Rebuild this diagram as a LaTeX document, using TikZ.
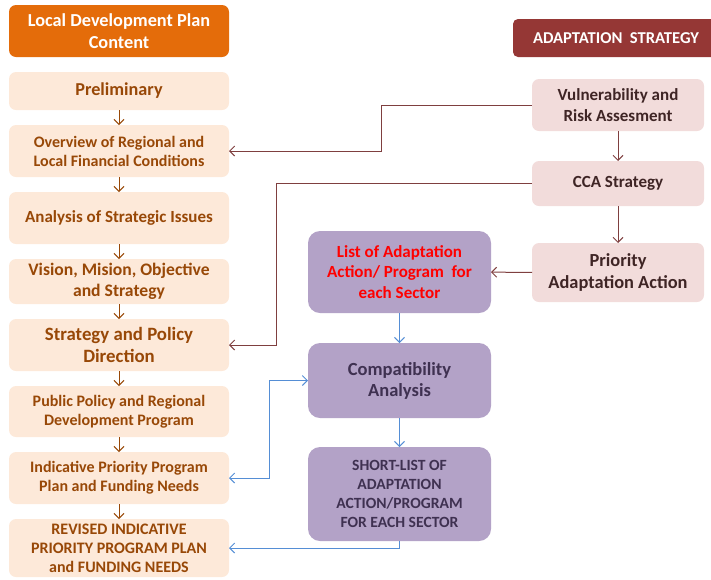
\documentclass[tikz,border=0pt]{standalone}
\usepackage{fontspec}
\setmainfont{Carlito}
\usetikzlibrary{arrows.meta, positioning}

\definecolor{planorange}{HTML}{E46C0A}
\definecolor{planfill}{HTML}{FDE9D9}
\definecolor{plantext}{HTML}{984807}
\definecolor{adaptred}{HTML}{953735}
\definecolor{adaptfill}{HTML}{F2DCDB}
\definecolor{adapttext}{HTML}{3F2525}
\definecolor{actionfill}{HTML}{B3A2C7}
\definecolor{actiontext}{HTML}{3F3151}
\definecolor{linkred}{HTML}{7F3F3F}
\definecolor{linkblue}{HTML}{558ED5}

\tikzset{
  box/.style={align=center, inner sep=1pt, outer sep=0pt, font=\bfseries\fontsize{16}{19}\selectfont},
  planhead/.style={box, fill=planorange, text=white, rounded corners=7pt, minimum width=220pt, minimum height=52pt, font=\bfseries\fontsize{18.3}{22}\selectfont},
  plan/.style={box, fill=planfill, text=plantext, rounded corners=7pt, minimum width=220pt},
  adapthead/.style={box, fill=adaptred, text=white, rounded corners=5pt, minimum width=206pt, minimum height=38pt, font=\bfseries\fontsize{16.6}{20}\selectfont},
  adapt/.style={box, fill=adaptfill, text=adapttext, rounded corners=7pt, minimum width=172pt, font=\bfseries\fontsize{17}{20.5}\selectfont},
  action/.style={box, fill=actionfill, text=actiontext, rounded corners=12pt, minimum width=183pt, font=\bfseries\fontsize{17}{20.5}\selectfont}
}

\begin{document}
\begin{tikzpicture}[x=1pt, y=-1pt, ->, >={Straight Barb[length=5pt, width=10pt]}, node distance=15pt, line width=1pt]
    \useasboundingbox (0,0) rectangle (711,579);
    % local development plan
    \node[planhead]		(head)		at (119,31)		{Local Development Plan\\Content};
    \node[plan, minimum height=38pt, font=\bfseries\fontsize{18.2}{22}\selectfont]	(prelim)	[below=of head]			{Preliminary};
    \node[plan, minimum height=52pt]	(overview)	[below=of prelim]		{Overview of Regional and\\Local Financial Conditions};
    \node[plan, minimum height=52pt, font=\bfseries\fontsize{17}{21}\selectfont]	(issues)	[below=of overview]		{Analysis of Strategic Issues};
    \node[plan, minimum height=45pt, font=\bfseries\fontsize{17.6}{21.5}\selectfont]	(vision)	[below=of issues]		{Vision, Mision, Objective\\and Strategy};
    \node[plan, minimum height=52pt, font=\bfseries\fontsize{18.8}{21.5}\selectfont]	(policy)	[below=of vision]		{Strategy and Policy\\Direction};
    \node[plan, minimum height=51pt]	(program)	[below=of policy]		{Public Policy and Regional\\Development Program};
    \node[plan, minimum height=52pt]	(indicative)	[below=of program]	{Indicative Priority Program\\Plan and Funding Needs};
    \node[plan, minimum height=58pt]	(revised)	[below=of indicative]	{REVISED INDICATIVE\\PRIORITY PROGRAM PLAN\\and FUNDING NEEDS};
    % adaptation strategy
    \node[adapthead]	(adhead)	at (616,38)		{ADAPTATION\ \ STRATEGY};
    \node[adapt, minimum height=52pt]	(vuln)		at (618,105)	{Vulnerability and\\Risk Assesment};
    \node[adapt, minimum height=45pt]	(cca)		[below=30pt of vuln]	{CCA Strategy};
    \node[adapt, minimum height=59pt, font=\bfseries\fontsize{18.4}{22}\selectfont]	(priority)	[below=37pt of cca]	{Priority\\Adaptation Action};
    \node[action, minimum height=82pt, text=red]	(list)		at (399.5,272)	{List of Adaptation\\Action/ Program\ \ for\\each Sector};
    \node[action, minimum height=75pt, font=\bfseries\fontsize{18.5}{21}\selectfont]	(compat)	[below=30pt of list]	{Compatibility\\Analysis};
    \node[action, minimum height=94pt, font=\bfseries\fontsize{15.6}{19}\selectfont]	(short)		[below=29pt of compat]	{SHORT-LIST OF\\ADAPTATION\\ACTION/PROGRAM\\FOR EACH SECTOR};
    % connectors
    \foreach \a/\b in {prelim/overview, overview/issues, issues/vision, vision/policy, policy/program, program/indicative, indicative/revised}
        \draw[plantext] (\a) -- (\b);
    \draw[linkred]	(vuln.west) -- ++(-151,0) |- (overview.east);
    \draw[linkred]	(cca.west) -- ++(-256,0) |- (policy.east);
    \draw[linkred]	(vuln) -- (cca);
    \draw[linkred]	(cca) -- (priority);
    \draw[linkred]	(priority) -- (list);
    \draw[linkblue]	(list) -- (compat);
    \draw[linkblue]	(compat) -- (short);
    \draw[linkblue, <->]	(compat.west) -- ++(-39,0) |- (indicative.east);
    \draw[linkblue]	(short.south) |- (revised.east);
\end{tikzpicture}
\end{document}
